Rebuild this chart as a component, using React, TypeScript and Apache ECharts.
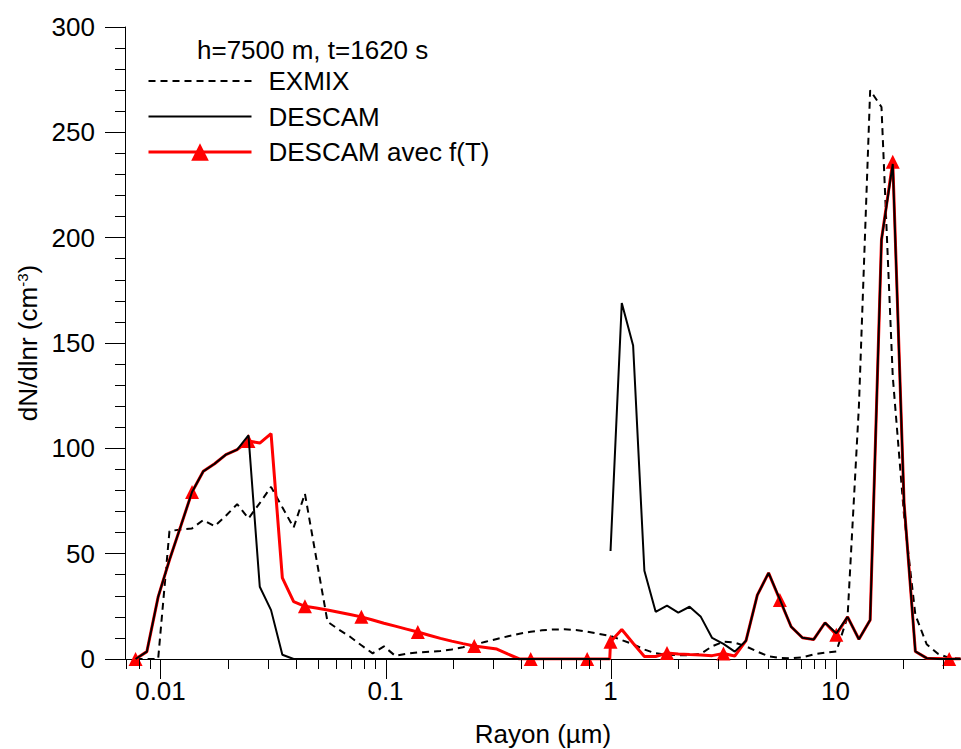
import React, { useEffect, useRef } from "react";
import * as echarts from "echarts";

// Radius bins (µm): aerosol grid and drop grid
const aerosolRadii = [
  0.00775, 0.008699, 0.009764, 0.01096, 0.0123, 0.01381, 0.0155, 0.0174, 0.01953, 0.02192,
  0.0246, 0.02762, 0.031, 0.0348, 0.03906, 0.04384, 0.04921, 0.05524, 0.062, 0.06959,
  0.07811, 0.08768, 0.09842, 0.1105, 0.124, 0.1392, 0.1562, 0.1754, 0.1968, 0.2209,
  0.248, 0.2784, 0.3125, 0.3507, 0.3937, 0.4419, 0.496, 0.5567, 0.6249, 0.7015,
  0.7874, 0.8838, 0.992,
];
const dropRadii = [
  1, 1.122, 1.26, 1.414, 1.587, 1.782, 2, 2.245, 2.52, 2.828, 3.175, 3.564, 4, 4.49, 5.04, 5.657,
  6.35, 7.127, 8, 8.98, 10.08, 11.31, 12.7, 14.25, 16, 17.96, 20.16, 22.63, 25.4, 28.51, 32, 35.92,
];

// EXMIX (dashed)
const exmixAerosol = [
  0, 0, 0, 60.7, 61.5, 62, 66, 63, 68, 73.5, 66.7, 74, 81.7, 72, 62.4, 78.5, 48, 17.7, 14, 10.6,
  6.5, 2.7, 6, 1.5, 2.5, 3.1, 3.4, 3.8, 4.5, 5.6, 6.8, 8.2, 9.5, 10.8, 12, 12.9, 13.6, 14, 14.1, 13.8,
  13, 12,
];
const exmixDrop = [
  10.9, 9, 7, 4.5, 2.7, 2, 1.8, 1.8, 2.5, 6, 8.2, 7.8, 6, 3.5, 1.3, 0.5, 0.3, 0.8, 2.2, 3, 3.6, 20,
  120, 270, 262, 134, 68, 21, 7, 2.5, 0.5, 0.2,
];

// DESCAM (solid black)
const descamAerosol = [
  0, 3.5, 29.5, 47, 63, 79.3, 89.1, 92.7, 97, 99.4, 106.2, 34.3, 23.2, 2, 0, 0, 0, 0, 0, 0,
  0, 0, 0, 0, 0, 0, 0, 0, 0, 0, 0, 0, 0, 0, 0, 0, 0, 0, 0, 0, 0, 0, 0,
];
const descamDrop = [
  51.3, 169, 148.8, 41.9, 22.4, 25.3, 22, 24.8, 20, 10, 7.2, 3.5, 8.7, 30.3, 40.9, 28.3, 15.3, 10.1,
  9.3, 17.2, 12.2, 20, 9.4, 18.5, 199, 235, 74, 3.6, 0.4, 0, 0, 0,
];

// DESCAM avec f(T) (red, triangles)
const descamFTAerosol = [
  0, 3.5, 29.5, 47, 63, 79.3, 89.1, 92.7, 97, 99.4, 103.5, 102.5, 107, 38.5, 27.2, 25, 24.2, 23.3,
  22.2, 21.1, 20, 18.5, 17, 15.6, 14.2, 12.8, 11.3, 9.8, 8.5, 7.3, 6.2, 5.5, 4.7, 2.3, 0, 0, 0, 0, 0,
  0, 0, 0, 0,
];
const descamFTDrop = [
  8.2, 14, 7.5, 1.2, 1.2, 2.8, 2.4, 2.1, 1.9, 1.6, 2.6, 1.4, 8.7, 30.3, 40.9, 28, 15.3, 10.1, 9.3,
  17.2, 11.5, 20, 9.4, 18.5, 199, 236, 74, 3.6, 0.4, 0.2, 0, 0,
];

const seriesNames = ["EXMIX", "DESCAM", "DESCAM avec f(T)"];
const chartTitle = "h=7500 m, t=1620 s";
const xMajorTicks = [0.01, 0.1, 1, 10];
const xTickLabels = ["0.01", "0.1", "1", "10"];
const xMinorTicks = [
  0.007, 0.008, 0.009, 0.02, 0.03, 0.04, 0.05, 0.06, 0.07, 0.08, 0.09, 0.2, 0.3, 0.4, 0.5, 0.6, 0.7,
  0.8, 0.9, 2, 3, 4, 5, 6, 7, 8, 9, 20, 30,
];
const markerEvery = 5;

const FONT = "'Liberation Sans', Arial, Helvetica, sans-serif";

export default function App() {
  const ref = useRef<HTMLDivElement>(null);

  useEffect(() => {
    if (!ref.current) return;
    const chart = echarts.init(ref.current, undefined, { renderer: "svg" });

    const exmixData = [
      ...exmixAerosol.map((v, i) => [aerosolRadii[i], v]),
      ...exmixDrop.map((v, j) => [dropRadii[j], v]),
    ];
    const descamData: any[] = [
      ...descamAerosol.map((v, i) => [aerosolRadii[i], v]),
      [0.996, null],
      ...descamDrop.map((v, j) => [dropRadii[j], v]),
    ];
    const ftData = [
      ...descamFTAerosol.map((v, i) => ({
        value: [aerosolRadii[i], v],
        symbol: i % markerEvery === 0 ? "triangle" : "none",
      })),
      ...descamFTDrop.map((v, j) => ({
        value: [dropRadii[j], v],
        symbol: j % markerEvery === 0 ? "triangle" : "none",
      })),
    ];

    const tickSeries = (vals: number[], len: number) => ({
      type: "custom",
      silent: true,
      clip: false,
      z: 5,
      data: vals.map((v) => [v, 0]),
      renderItem: (_p: any, api: any) => {
        const pt = api.coord([api.value(0), 0]);
        const x = Math.round(pt[0]) + 0.5;
        return {
          type: "line",
          shape: { x1: x, y1: pt[1], x2: x, y2: pt[1] + len },
          style: { stroke: "#000", lineWidth: 1 },
        };
      },
    });

    chart.setOption({
      animation: false,
      backgroundColor: "#fff",
      textStyle: { fontFamily: FONT, color: "#000" },
      title: {
        text: chartTitle,
        left: 197,
        top: 37,
        padding: 0,
        textStyle: { fontSize: 26, fontWeight: "normal", color: "#000", fontFamily: FONT },
      },
      legend: {
        data: [
          {
            name: seriesNames[0],
            itemStyle: { opacity: 0 },
            lineStyle: { width: 2, color: "#000", type: [7, 5] },
          },
          { name: seriesNames[1], itemStyle: { opacity: 0 }, lineStyle: { width: 2, color: "#000" } },
          { name: seriesNames[2], lineStyle: { width: 3, color: "#ff0000" } },
        ],
        orient: "vertical",
        left: 147,
        top: 68,
        padding: 0,
        itemWidth: 103,
        itemHeight: 22,
        itemGap: 9.5,
        selectedMode: false,
        textStyle: { fontSize: 26, color: "#000", fontFamily: FONT, padding: [0, 0, 0, 12] },
      },
      grid: {
        left: 125,
        right: 0,
        top: 27,
        bottom: 90,
        containLabel: false,
        outerBoundsMode: "none",
      },
      xAxis: {
        type: "log",
        logBase: 10,
        min: 0.006955,
        max: 36.1,
        name: "Rayon (µm)",
        nameLocation: "middle",
        nameGap: 62,
        nameTextStyle: { fontSize: 26, color: "#000", fontFamily: FONT },
        axisLine: { show: true, onZero: false, lineStyle: { color: "#000", width: 1 } },
        axisTick: { show: false },
        minorTick: { show: false },
        splitLine: { show: false },
        axisLabel: {
          fontSize: 26,
          color: "#000",
          margin: 19,
          showMinLabel: false,
          showMaxLabel: false,
          formatter: (v: number) => {
            const idx = xMajorTicks.findIndex((m) => Math.abs(Math.log10(v) - Math.log10(m)) < 1e-6);
            return idx >= 0 ? xTickLabels[idx] : "";
          },
        },
      },
      yAxis: {
        type: "value",
        min: 0,
        max: 300,
        interval: 50,
        name: "dN/dlnr (cm{sup|-3})",
        nameLocation: "middle",
        nameRotate: 90,
        nameGap: 80,
        nameTextStyle: {
          fontSize: 26,
          color: "#000",
          fontFamily: FONT,
          rich: { sup: { fontSize: 15, verticalAlign: "top", color: "#000", fontFamily: FONT } },
        },
        axisLine: { show: true, lineStyle: { color: "#000", width: 1 } },
        axisTick: { show: true, length: 20, lineStyle: { color: "#000", width: 1 } },
        minorTick: { show: true, splitNumber: 5, length: 10, lineStyle: { color: "#000", width: 1 } },
        splitLine: { show: false },
        minorSplitLine: { show: false },
        axisLabel: { fontSize: 26, color: "#000", margin: 30 },
      },
      series: [
        {
          name: seriesNames[0],
          type: "line",
          data: exmixData,
          symbol: "none",
          lineStyle: { color: "#000", width: 2, type: [7, 5] },
          itemStyle: { color: "#000" },
          z: 2,
        },
        {
          name: seriesNames[2],
          type: "line",
          data: ftData,
          symbol: "triangle",
          symbolSize: 14,
          lineStyle: { color: "#ff0000", width: 3 },
          itemStyle: { color: "#ff0000" },
          z: 3,
        },
        {
          name: seriesNames[1],
          type: "line",
          data: descamData,
          symbol: "none",
          connectNulls: false,
          lineStyle: { color: "#000", width: 2 },
          itemStyle: { color: "#000" },
          z: 4,
        },
        tickSeries(xMajorTicks, 20),
        tickSeries(xMinorTicks, 10),
      ],
    });

    return () => chart.dispose();
  }, []);

  return (
    <div
      ref={ref}
      style={{ position: "fixed", left: 0, top: 0, width: 961, height: 749, background: "#fff" }}
    />
  );
}
